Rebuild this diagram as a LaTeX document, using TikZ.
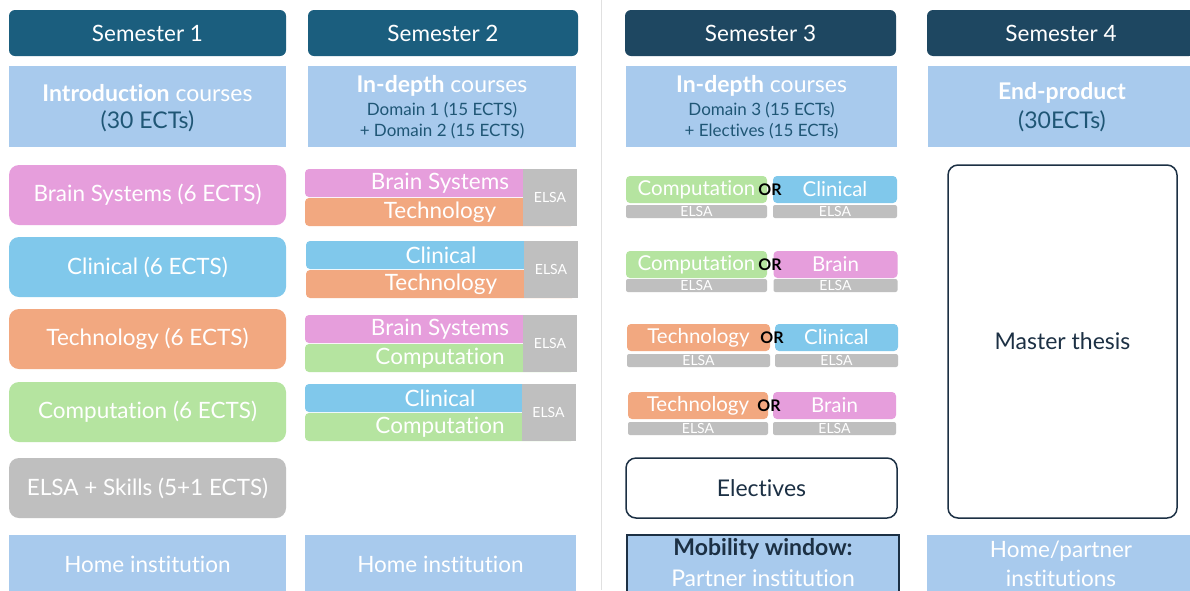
\documentclass[tikz,border=0pt]{standalone}
\usepackage{fontspec}
\setmainfont{Lato}[Ligatures=NoCommon]

\definecolor{semA}{RGB}{27,94,126}
\definecolor{semB}{RGB}{30,71,97}
\definecolor{titlebg}{RGB}{168,202,237}
\definecolor{brainc}{RGB}{230,158,220}
\definecolor{clinc}{RGB}{128,200,235}
\definecolor{techc}{RGB}{242,168,128}
\definecolor{compc}{RGB}{181,228,160}
\definecolor{elsac}{RGB}{191,191,191}
\definecolor{darktxt}{RGB}{31,86,117}
\definecolor{navy}{RGB}{28,48,68}

\tikzset{
  box/.style={inner sep=0pt, outer sep=0pt, align=center, text=white},
  header/.style={box, rounded corners=6pt, minimum height=46pt, font=\fontsize{22.5}{26}\selectfont},
  title/.style={box, fill=titlebg, minimum height=81pt},
  course/.style={box, rounded corners=10pt, minimum width=277pt, minimum height=60pt, font=\fontsize{22.5}{26}\selectfont},
  bar/.style={box, rounded corners=4pt, minimum width=270pt, minimum height=28pt, font=\fontsize{22.5}{26}\selectfont},
  elsa/.style={box, fill=elsac, minimum width=54pt, minimum height=57pt, font=\fontsize{14}{16}\selectfont},
  pick/.style={box, rounded corners=4pt, minimum height=27pt, font=\fontsize{20.5}{24}\selectfont},
  tag/.style={box, fill=elsac, rounded corners=2pt, minimum height=13pt, font=\fontsize{14}{14}\selectfont},
  orword/.style={inner sep=0pt, font=\bfseries\fontsize{16}{18}\selectfont},
  place/.style={box, fill=titlebg, minimum height=58pt, font=\fontsize{22.5}{29}\selectfont},
  frame/.style={box, draw=navy, line width=1.5pt, text=navy, rounded corners=10pt, font=\fontsize{23}{26}\selectfont},
  big/.style={inner sep=0pt, text=white, font=\fontsize{23}{26}\selectfont},
  small/.style={inner sep=0pt, text=darktxt, font=\fontsize{17}{20}\selectfont},
}

\begin{document}
\begin{tikzpicture}[x=1pt,y=-1pt]
  \fill[white] (0,0) rectangle (1190,590);
  \useasboundingbox (0,0) rectangle (1190,590);
  \clip (0,0) rectangle (1190,590);

  % divider between year 1 and year 2
  \draw[black!12, line width=1pt] (601,0) -- (601,590);

  %%%%%%%%%%%%%Headers%%%%%%%%%%%%%%%%%%%%%%
  \node[header, fill=semA, minimum width=277pt] (sem1) at (147.5,33) {Semester 1};
  \node[header, fill=semA, minimum width=270pt] (sem2) at (443,33) {Semester 2};
  \node[header, fill=semB, minimum width=271pt] (sem3) at (760.5,33) {Semester 3};
  \node[header, fill=semB, minimum width=268pt] (sem4) at (1061,33) {Semester 4};

  %%%%%%%%%%%%%Titles%%%%%%%%%%%%%%%%%%%%%%
  \node[title, minimum width=277pt] (t1) at (147.5,106.5) {};
  \node[big] (t1a) at (147.5,93) {\bfseries Introduction\mdseries{} courses};
  \node[big, text=darktxt] (t1b) at (147.5,121) {(30 ECTs)};

  \node[title, minimum width=268pt] (t2) at (442,106.5) {};
  \node[big] (t2a) at (442,86) {\bfseries In-depth\mdseries{} courses};
  \node[small] (t2b) at (442,110) {Domain 1 (15 ECTS)};
  \node[small] (t2c) at (442,131) {+ Domain 2 (15 ECTS)};

  \node[title, minimum width=271pt] (t3) at (761.5,106.5) {};
  \node[big] (t3a) at (761.5,86) {\bfseries In-depth\mdseries{} courses};
  \node[small] (t3b) at (761.5,110) {Domain 3 (15 ECTs)};
  \node[small] (t3c) at (761.5,131) {+ Electives (15 ECTs)};

  \node[title, minimum width=268pt] (t4) at (1062,106.5) {};
  \node[big] (t4a) at (1062,93) {\bfseries End-product};
  \node[big, text=darktxt] (t4b) at (1062,121) {(30ECTs)};

  %%%%%%%%%%%%%Semester 1%%%%%%%%%%%%%%%%%%%%%%
  \node[course, fill=brainc] (brain1) at (147.5,195) {Brain Systems (6 ECTS)};
  \node[course, fill=clinc] (clin1) at (147.5,267) {Clinical (6 ECTS)};
  \node[course, fill=techc] (tech1) at (147.5,339) {Technology (6 ECTS)};
  \node[course, fill=compc] (comp1) at (147.5,412) {Computation (6 ECTS)};
  \node[course, fill=elsac] (elsa1) at (147.5,488) {ELSA + Skills (5+1 ECTS)};

  %%%%%%%%%%%%%Semester 2%%%%%%%%%%%%%%%%%%%%%%
  \node[bar, fill=brainc] (p1a) at (440,183) {Brain Systems};
  \node[bar, fill=techc] (p1b) at (440,212) {Technology};
  \node[elsa] (p1e) at (550,197) {ELSA};

  \node[bar, fill=clinc] (p2a) at (441,255) {Clinical};
  \node[bar, fill=techc] (p2b) at (441,284) {Technology};
  \node[elsa] (p2e) at (551,269.5) {ELSA};

  \node[bar, fill=brainc] (p3a) at (440,329) {Brain Systems};
  \node[bar, fill=compc] (p3b) at (440,358) {Computation};
  \node[elsa] (p3e) at (550,343.5) {ELSA};

  \node[bar, fill=clinc] (p4a) at (440,398) {Clinical};
  \node[bar, fill=compc] (p4b) at (440,427) {Computation};
  \node[elsa] (p4e) at (548.5,412.5) {ELSA};

  %%%%%%%%%%%%%Semester 3%%%%%%%%%%%%%%%%%%%%%%
  \node[pick, fill=compc, minimum width=141pt] (c1a) at (696.5,189.5) {Computation};
  \node[tag, minimum width=141pt] (c1ae) at (696.5,211.5) {ELSA};
  \node[pick, fill=clinc, minimum width=124pt] (c1b) at (835,189.5) {Clinical};
  \node[tag, minimum width=124pt] (c1be) at (835,211.5) {ELSA};
  \node[orword] (or1) at (770,189.5) {OR};

  \node[pick, fill=compc, minimum width=141pt] (c2a) at (696.5,264.5) {Computation};
  \node[tag, minimum width=141pt] (c2ae) at (696.5,285.5) {ELSA};
  \node[pick, fill=brainc, minimum width=124pt] (c2b) at (835.5,264.5) {Brain};
  \node[tag, minimum width=124pt] (c2be) at (835.5,285.5) {ELSA};
  \node[orword] (or2) at (770,264.5) {OR};

  \node[pick, fill=techc, minimum width=143pt] (c3a) at (698.5,337.5) {Technology};
  \node[tag, minimum width=143pt] (c3ae) at (698.5,360.5) {ELSA};
  \node[pick, fill=clinc, minimum width=123pt] (c3b) at (836.5,337.5) {Clinical};
  \node[tag, minimum width=123pt] (c3be) at (836.5,360.5) {ELSA};
  \node[orword] (or3) at (772,337.5) {OR};

  \node[pick, fill=techc, minimum width=140pt] (c4a) at (698,405.5) {Technology};
  \node[tag, minimum width=140pt] (c4ae) at (698,428.5) {ELSA};
  \node[pick, fill=brainc, minimum width=123pt] (c4b) at (834.5,405.5) {Brain};
  \node[tag, minimum width=123pt] (c4be) at (834.5,428.5) {ELSA};
  \node[orword] (or4) at (769,405.5) {OR};

  \node[frame, minimum width=271pt, minimum height=60pt] (elect) at (761.5,488) {Electives};

  %%%%%%%%%%%%%Semester 4%%%%%%%%%%%%%%%%%%%%%%
  \node[frame, minimum width=229pt, minimum height=353pt] (thesis) at (1062.5,341.5) {Master thesis};

  %%%%%%%%%%%%%Institutions%%%%%%%%%%%%%%%%%%%%%%
  \node[place, minimum width=277pt] (home1) at (147.5,564) {Home institution};
  \node[place, minimum width=271pt] (home2) at (440.5,564) {Home institution};
  \node[place, draw=navy, line width=1.5pt, minimum width=272pt] (mob) at (763,564) {};
  \node[big, text=navy] (moba) at (763,549) {\bfseries Mobility window:};
  \node[big] (mobb) at (763,578) {Partner institution};
  \node[place, minimum width=268pt] (home4) at (1061,564) {Home/partner\\institutions};
\end{tikzpicture}
\end{document}
